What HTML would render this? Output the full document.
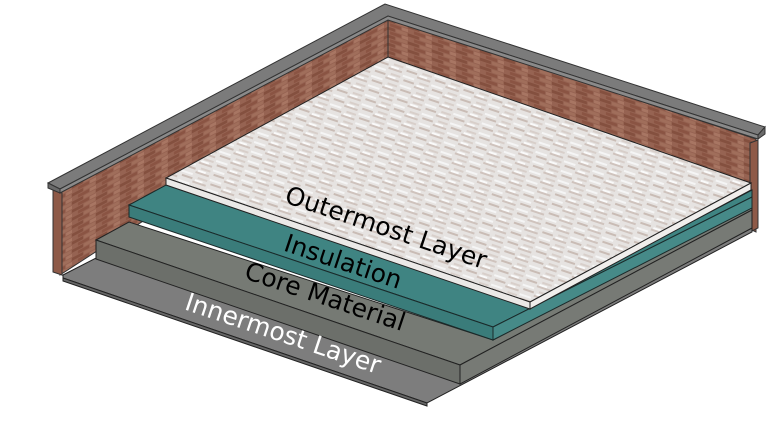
<!DOCTYPE html>
<html><head><style>html,body{margin:0;padding:0;background:#fff}svg{display:block}</style></head>
<body>
<svg width="783" height="421" viewBox="0 0 783 421" xmlns="http://www.w3.org/2000/svg">
<defs>
<pattern id="brickL" width="24" height="8" patternUnits="userSpaceOnUse" patternTransform="skewY(-27.9)">
<rect width="24" height="8" fill="#966352"/>
<rect x="0" y="0" width="11" height="3" fill="#84503f"/>
<rect x="12" y="0" width="11" height="3" fill="#a06e5b"/>
<rect x="6" y="4" width="11" height="3" fill="#8a5443"/>
<rect x="18" y="4" width="6" height="3" fill="#a87663"/>
</pattern>
<pattern id="brickR" width="24" height="8" patternUnits="userSpaceOnUse" patternTransform="skewY(18.6)">
<rect width="24" height="8" fill="#966352"/>
<rect x="0" y="0" width="11" height="3" fill="#84503f"/>
<rect x="12" y="0" width="11" height="3" fill="#a06e5b"/>
<rect x="6" y="4" width="11" height="3" fill="#8a5443"/>
<rect x="18" y="4" width="6" height="3" fill="#a87663"/>
</pattern>
<pattern id="tile" width="30" height="10" patternUnits="userSpaceOnUse" patternTransform="rotate(18.5)">
<rect width="30" height="10" fill="#e6e3e1"/>
<rect x="0" y="0" width="14" height="2" fill="#cfc3bd"/>
<rect x="16" y="3" width="12" height="2" fill="#f5f5f5"/>
<rect x="4" y="5" width="10" height="2" fill="#d8cfca"/>
<rect x="18" y="7" width="11" height="2" fill="#c9bcb5"/>
<rect x="2" y="8" width="8" height="2" fill="#fafafa"/>
</pattern>
</defs>

<!-- wall inner faces -->
<polygon points="60,190 388,18 388,62 60,275" fill="url(#brickL)" stroke="#333" stroke-width="1"/>
<polygon points="388,18 756,139 756,232 388,62" fill="url(#brickR)" stroke="#333" stroke-width="1"/>
<line x1="388" y1="20" x2="388" y2="60" stroke="#333"/>
<!-- wall end faces -->
<polygon points="53,190 62,193 62,275 53,272" fill="#8e5a48" stroke="#333" stroke-width="1"/>
<polygon points="750,143 758,140 758,228 750,232" fill="#8e5a48" stroke="#333" stroke-width="1"/>
<!-- cap -->
<polygon points="48,183 385,4 765,127 758,135 388,16 60,189" fill="#7b7b7b" stroke="#333" stroke-width="1"/>
<polygon points="60,189 388,16 758,135 758,139 388,20 60,193" fill="#8a8a8a" stroke="#333" stroke-width="1"/>
<polygon points="48,183 60,189 60,193 48,188" fill="#6a6a6a" stroke="#333" stroke-width="1"/>
<polygon points="758,135 765,127 765,134 758,139" fill="#6a6a6a" stroke="#333" stroke-width="1"/>

<!-- innermost -->
<polygon points="63,275 96,258 460,383 752,228 752,232 427,403 63,278" fill="#7d7d7d" stroke="#222" stroke-width="1"/>
<polygon points="63,278 427,403 427,406 63,281" fill="#666" stroke="#222" stroke-width="1"/>
<!-- core -->
<polygon points="96,240 129,222 493,340 752,205 752,228 460,383 96,258" fill="#6f726d"/>
<polygon points="96,240 129,222 493,340 752,205 752,210 460,365" fill="#767a74" stroke="#222" stroke-width="1"/>
<polygon points="96,240 460,365 460,384 96,259" fill="#6c6f6a" stroke="#222" stroke-width="1"/>
<polygon points="460,365 752,210 752,228 460,384" fill="#777a75" stroke="#222" stroke-width="1"/>
<!-- insulation -->
<polygon points="129,205 166,185 530,307 752,190 752,197 493,327" fill="#3f8482" stroke="#1a2a2a" stroke-width="1"/>
<polygon points="129,205 493,327 493,340 129,217" fill="#3a7c7a" stroke="#1a2a2a" stroke-width="1"/>
<polygon points="493,327 752,197 752,208 493,340" fill="#468a88" stroke="#1a2a2a" stroke-width="1"/>
<!-- outermost -->
<polygon points="388,57 751,183 530,302 166,178" fill="url(#tile)" stroke="#222" stroke-width="1"/>
<polygon points="166,178 530,302 530,309 166,185" fill="#ebe9e7" stroke="#222" stroke-width="1"/>
<polygon points="530,302 751,183 751,190 530,309" fill="#f0eeec" stroke="#222" stroke-width="1"/>

<g font-family="DejaVu Sans, Liberation Sans, sans-serif" font-size="25" text-anchor="middle">
<text x="386" y="236" fill="#000" transform="rotate(18.5 386 228)">Outermost Layer</text>
<text x="343" y="270" fill="#000" transform="rotate(18.5 343 262)">Insulation</text>
<text x="325" y="305" fill="#000" transform="rotate(18.5 325 297)">Core Material</text>
<text x="283" y="342" fill="#fff" transform="rotate(18.5 283 334)">Innermost Layer</text>
</g>
</svg>
</body></html>
